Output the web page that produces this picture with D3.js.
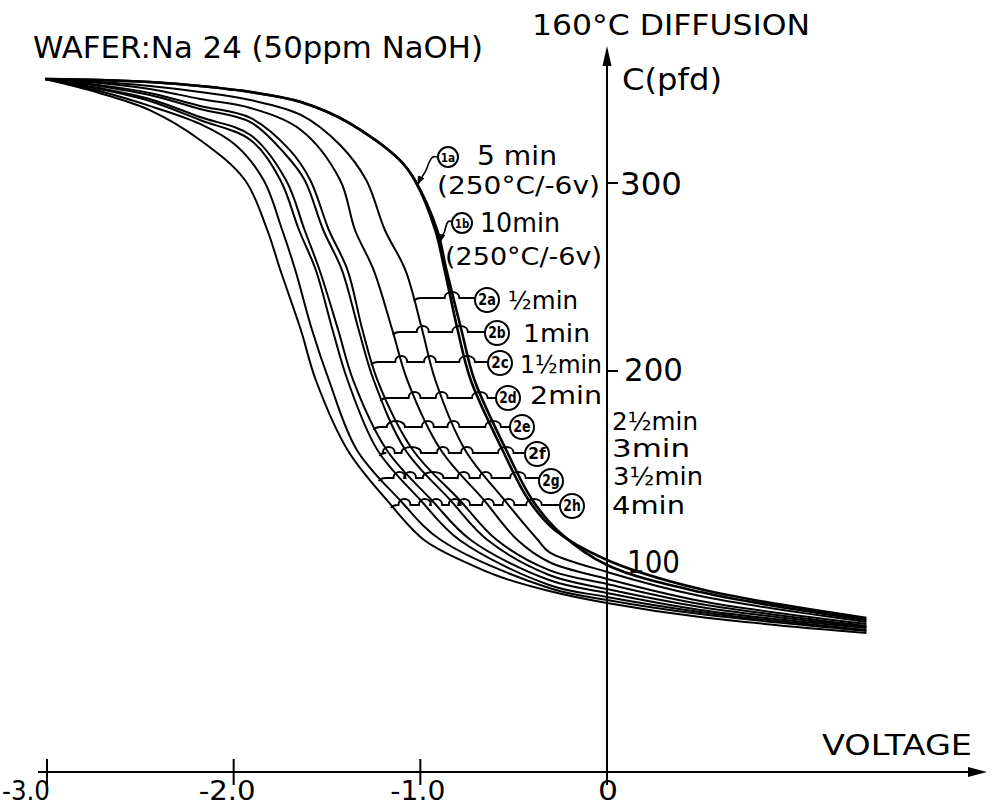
<!DOCTYPE html>
<html>
<head>
<meta charset="utf-8">
<script src="https://cdn.jsdelivr.net/npm/d3@7"></script>
<style>
	body { margin: 0; background: #fff; }
	svg { display: block; }
	text { font-family: "DejaVu Sans", sans-serif; fill: #000; }
</style>
</head>
<body>
<svg id="chart" width="1003" height="807"></svg>
<script>
// curve ids and their time labels
var curveIds = ['1a', '1b', '2a', '2b', '2c', '2d', '2e', '2f', '2g', '2h'];
var curveLabels = ['5 min', '10min', '\u00bdmin', '1min', '1\u00bdmin', '2min',
	'2\u00bdmin', '3min', '3\u00bdmin', '4min'];
var conditionLabel = '(250\u00b0C/-6v)';

// [voltage, capacitance pfd]
var curve1a = [[-3.01,355.3],[-2.72,354.8],[-2.45,353.7],[-2.18,351.6],[-1.91,348.4],[-1.64,343.1],
	[-1.38,331.9],[-1.11,312.2],[-1.03,301.6],[-0.92,275.0],[-0.87,253.7],[-0.80,221.8],[-0.73,195.2],
	[-0.56,158.0],[-0.42,131.4],[-0.28,115.4],[0,99.5],[0.50,84.0],[1.39,68.6]];
var curve1b = [[-3.01,355.3],[-2.72,354.8],[-2.45,353.7],[-2.18,351.6],[-1.91,348.4],[-1.64,343.1],
	[-1.38,331.9],[-1.11,312.2],[-1.03,301.6],[-0.91,275.0],[-0.86,253.7],[-0.78,221.8],[-0.71,195.2],
	[-0.54,158.0],[-0.40,131.4],[-0.25,113.8],[0,96.8],[0.50,82.4],[1.39,67.6]];
var curve2a = [[-3.01,355.3],[-2.72,353.7],[-2.45,351.6],[-2.18,348.4],[-1.91,344.1],[-1.64,336.2],
	[-1.43,320.2],[-1.29,301.6],[-1.19,275.0],[-1.08,253.7],[-0.99,221.8],[-0.92,195.2],[-0.76,158.0],
	[-0.55,131.4],[-0.37,110.1],[-0.31,103.7],[0,93.1],[0.50,80.3],[1.39,66.5]];
var curve2b = [[-3.01,355.3],[-2.72,353.2],[-2.45,350.0],[-2.18,344.7],[-1.91,339.9],[-1.64,328.2],
	[-1.43,301.6],[-1.35,275.0],[-1.25,253.7],[-1.15,221.8],[-1.07,195.2],[-0.89,158.0],[-0.66,131.4],
	[-0.48,110.1],[-0.31,98.4],[0,89.4],[0.50,77.7],[1.39,65.4]];
var curve2c = [[-3.01,355.3],[-2.72,352.1],[-2.45,347.9],[-2.18,341.0],[-1.91,334.6],[-1.70,317.6],
	[-1.59,301.6],[-1.49,275.0],[-1.39,253.7],[-1.31,221.8],[-1.23,195.2],[-1.04,158.0],[-0.79,131.4],
	[-0.59,110.1],[-0.31,94.1],[0,86.7],[0.50,76.1],[1.39,64.4]];
var curve2d = [[-3.01,355.3],[-2.72,351.6],[-2.45,346.8],[-2.18,339.4],[-1.91,332.4],[-1.72,314.9],
	[-1.62,301.6],[-1.52,275.0],[-1.42,253.7],[-1.33,221.8],[-1.25,195.2],[-1.08,158.0],[-0.84,131.4],
	[-0.64,110.1],[-0.31,91.5],[0,84.0],[0.50,74.5],[1.39,63.8]];
var curve2e = [[-3.01,355.3],[-2.72,350.5],[-2.45,344.7],[-2.18,335.1],[-1.91,325.5],[-1.72,301.6],
	[-1.62,275.0],[-1.54,253.7],[-1.44,221.8],[-1.36,195.2],[-1.18,158.0],[-0.94,131.4],[-0.73,110.1],
	[-0.31,88.8],[0,81.9],[0.50,72.9],[1.39,63.3]];
var curve2f = [[-3.01,355.3],[-2.72,350.0],[-2.45,343.6],[-2.18,333.5],[-1.91,322.9],[-1.75,301.6],
	[-1.65,275.0],[-1.56,253.7],[-1.47,221.8],[-1.39,195.2],[-1.23,158.0],[-1.00,131.4],[-0.79,110.1],
	[-0.31,86.2],[0,79.8],[0.50,71.8],[1.39,62.2]];
var curve2g = [[-3.01,355.3],[-2.72,348.9],[-2.45,341.0],[-2.18,331.4],[-1.99,320.2],[-1.84,301.6],
	[-1.74,275.0],[-1.67,253.7],[-1.58,221.8],[-1.49,195.2],[-1.34,158.0],[-1.11,131.4],[-0.89,110.1],
	[-0.31,84.6],[0,78.2],[0.50,70.7],[1.39,61.7]];
var curve2h = [[-3.01,355.3],[-2.72,347.9],[-2.45,338.8],[-2.18,322.9],[-1.94,301.6],[-1.82,275.0],
	[-1.75,253.7],[-1.64,221.8],[-1.56,195.2],[-1.39,158.0],[-1.18,131.4],[-0.98,110.1],[-0.75,97.9],
	[-0.57,90.4],[-0.31,83.0],[0,76.6],[0.50,69.1],[1.39,60.6]];

// capacitance level of each leader line (curves 2a..2h)
var leaderC = [238.8, 220.7, 204.8, 185.6, 170.2, 156.4, 143.1, 128.7];

var voltageTicks = [-3, -2, -1, 0];
var voltageTickLabels = ['-3.0', '-2.0', '-1.0', '0'];
var capTicks = [300, 200];
var capTickLabels = ['300', '200'];
var capExtraLabel = [100, '100'];

var svg = d3.select('#chart'),
	x = d3.scaleLinear().domain([-3, 0]).range([47, 607]),
	y = d3.scaleLinear().domain([100, 300]).range([559, 183]),
	axisRow = 772;

function addText(t, left, width, cy, fs) {
	return svg.append('text')
		.attr('x', left)
		.attr('y', cy + fs * 0.36)
		.attr('font-size', fs)
		.attr('textLength', width)
		.attr('lengthAdjust', 'spacingAndGlyphs')
		.text(t);
}

svg.append('defs').append('marker')
	.attr('id', 'arr')
	.attr('markerUnits', 'userSpaceOnUse')
	.attr('markerWidth', 9).attr('markerHeight', 7)
	.attr('refX', 8).attr('refY', 3.5)
	.attr('orient', 'auto')
	.append('path').attr('d', 'M0,0 L9,3.5 L0,7 z').attr('fill', '#000');

// axes
svg.append('line')
	.attr('x1', 38).attr('x2', 975)
	.attr('y1', axisRow).attr('y2', axisRow)
	.attr('stroke', '#000').attr('stroke-width', 2);
svg.append('path')
	.attr('d', 'M987,' + axisRow + ' L968,' + (axisRow - 5) + ' L968,' + (axisRow + 5) + ' z');
svg.selectAll('.vtick').data(voltageTicks).enter().append('line')
	.attr('x1', function(d) { return x(d); })
	.attr('x2', function(d) { return x(d); })
	.attr('y1', axisRow - 13).attr('y2', axisRow + 13)
	.attr('stroke', '#000').attr('stroke-width', 2);
// label boxes around each tick: left offset and width
var vLabelBox = [[-45, 48], [-35, 57], [-30, 55], [-9, 20]];
voltageTickLabels.forEach(function(t, i) {
	addText(t, x(voltageTicks[i]) + vLabelBox[i][0], vLabelBox[i][1], 790, 27);
});

svg.append('line')
	.attr('x1', x(0)).attr('x2', x(0))
	.attr('y1', axisRow + 13).attr('y2', 60)
	.attr('stroke', '#000').attr('stroke-width', 2);
svg.append('path')
	.attr('d', 'M' + x(0) + ',46 L' + (x(0) - 4.5) + ',66 L' + (x(0) + 4.5) + ',66 z');
svg.selectAll('.ctick').data(capTicks).enter().append('line')
	.attr('x1', x(0)).attr('x2', x(0) + 11)
	.attr('y1', function(d) { return y(d); })
	.attr('y2', function(d) { return y(d); })
	.attr('stroke', '#000').attr('stroke-width', 2);
addText(capTickLabels[0], 620, 62, y(capTicks[0]), 32);
addText(capTickLabels[1], 624, 59, y(capTicks[1]) - 2, 32);
addText(capExtraLabel[1], 627, 53, y(capExtraLabel[0]) + 2, 32);

addText('WAFER:Na 24 (50ppm NaOH)', 33, 450, 47, 30);
addText('160\u00b0C DIFFUSION', 532, 278, 25, 29);
addText('C(pfd)', 622, 100, 79, 30);
addText('VOLTAGE', 822, 150, 745, 28);

// C-V curves
var line = d3.line()
	.x(function(d) { return x(d[0]); })
	.y(function(d) { return y(d[1]); })
	.curve(d3.curveCatmullRom.alpha(0.5));

var curves = [curve1a, curve1b, curve2a, curve2b, curve2c, curve2d, curve2e, curve2f, curve2g, curve2h];
var paths = svg.append('g').selectAll('path').data(curves).enter().append('path')
	.attr('d', line)
	.attr('fill', 'none')
	.attr('stroke', '#000')
	.attr('stroke-width', function(d, i) { return i < 2 ? 2.6 : 2; })
	.attr('stroke-linejoin', 'round');

// sample each path once, used to find where leaders cross
var samples = paths.nodes().map(function(node) {
	var len = node.getTotalLength(), pts = [];
	for (var s = 0; s <= len; s += 1) {
		pts.push(node.getPointAtLength(s));
	}
	return pts;
});

function crossX(pts, yL) {
	for (var i = 1; i < pts.length; i++) {
		var a = pts[i - 1], b = pts[i];
		if ((a.y - yL) * (b.y - yL) <= 0 && a.y !== b.y) {
			return a.x + (b.x - a.x) * (yL - a.y) / (b.y - a.y);
		}
	}
	return null;
}

// circled labels (layout)
var circlePos = [
	{cx: 448, cy: 157, r: 10}, {cx: 462, cy: 223, r: 10},
	{cx: 487, cy: 300, r: 12}, {cx: 497, cy: 333, r: 12},
	{cx: 500, cy: 363, r: 12}, {cx: 508, cy: 398, r: 12},
	{cx: 522, cy: 427, r: 12}, {cx: 537, cy: 454, r: 12},
	{cx: 551, cy: 481, r: 12}, {cx: 572, cy: 506, r: 12}
];
var textPos = [
	{x: 477, w: 80, cy: 156}, {x: 480, w: 80, cy: 223},
	{x: 508, w: 70, cy: 300}, {x: 523, w: 67, cy: 333},
	{x: 520, w: 82, cy: 364}, {x: 530, w: 72, cy: 395},
	{x: 612, w: 86, cy: 421}, {x: 612, w: 78, cy: 448},
	{x: 613, w: 90, cy: 476}, {x: 612, w: 73, cy: 505}
];

// leader lines with hops over the curves they cross
leaderC.forEach(function(c, k) {
	var idx = k + 2,
		yL = y(c),
		x0 = crossX(samples[idx], yL),
		x1 = circlePos[idx].cx - circlePos[idx].r,
		hops = [];
	samples.forEach(function(pts, j) {
		if (j === idx) return;
		var xc = crossX(pts, yL);
		if (xc !== null && xc > x0 + 6 && xc < x1 - 6) hops.push(xc);
	});
	hops.sort(function(a, b) { return a - b; });
	var groups = [];
	hops.forEach(function(h) {
		var g = groups[groups.length - 1];
		if (g && h - g[1] < 9) g[1] = h; else groups.push([h, h]);
	});
	var d = 'M' + x0 + ',' + (yL + 3) + ' Q' + (x0 + 2) + ',' + yL + ' ' + (x0 + 7) + ',' + yL;
	groups.forEach(function(g) {
		var a = g[0] - 6, b = g[1] + 6;
		d += ' L' + a + ',' + yL + ' C' + a + ',' + (yL - 8) + ' ' + b + ',' + (yL - 8) + ' ' + b + ',' + yL;
	});
	d += ' L' + x1 + ',' + yL;
	svg.append('path').attr('d', d)
		.attr('fill', 'none').attr('stroke', '#000').attr('stroke-width', 2);
});

// pointers for 1a and 1b
svg.append('path')
	.attr('d', 'M438,158 C432,153 429,162 427,168 S421,177 418,184')
	.attr('fill', 'none').attr('stroke', '#000').attr('stroke-width', 1.6)
	.attr('marker-end', 'url(#arr)');
svg.append('path')
	.attr('d', 'M452,222 C446,218 446,229 444,233 S441,238 440,242')
	.attr('fill', 'none').attr('stroke', '#000').attr('stroke-width', 1.6)
	.attr('marker-end', 'url(#arr)');

circlePos.forEach(function(p, i) {
	svg.append('circle')
		.attr('cx', p.cx).attr('cy', p.cy).attr('r', p.r)
		.attr('fill', '#fff').attr('stroke', '#000').attr('stroke-width', 2);
	svg.append('text')
		.attr('x', p.cx).attr('y', p.cy + p.r * 0.45)
		.attr('text-anchor', 'middle')
		.attr('font-size', p.r * 1.3)
		.attr('font-weight', 'bold')
		.attr('textLength', p.r * 1.45)
		.attr('lengthAdjust', 'spacingAndGlyphs')
		.text(curveIds[i]);
	var t = textPos[i];
	addText(curveLabels[i], t.x, t.w, t.cy, i < 2 ? 26 : 25);
});
addText(conditionLabel, 437, 163, 185, 25);
addText(conditionLabel, 445, 157, 256, 25);
</script>
</body>
</html>
